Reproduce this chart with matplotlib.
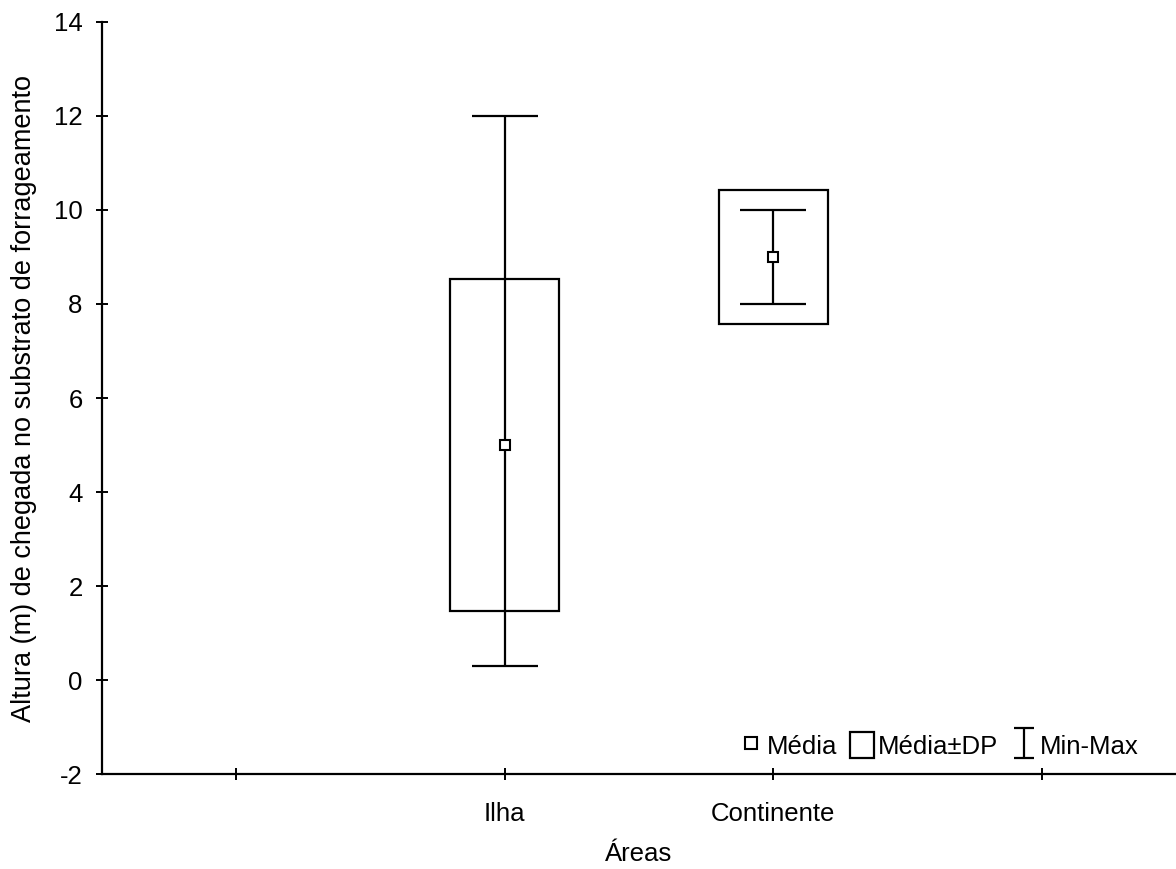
import matplotlib
matplotlib.use("Agg")
import matplotlib.pyplot as plt
import numpy as np
from matplotlib.patches import Rectangle
from matplotlib.lines import Line2D
from matplotlib.container import ErrorbarContainer
from matplotlib.legend_handler import HandlerErrorbar

plt.rcParams['font.family'] = ['Liberation Sans', 'DejaVu Sans']
plt.rcParams['axes.unicode_minus'] = False

# data
areas = ["Ilha", "Continente"]
media = [5.0, 9.0]
dp = [3.53, 1.42]
minimo = [0.3, 8.0]
maximo = [12.0, 10.0]

tick_pos = [0, 1, 2, 3]
tick_labels = ["", "Ilha", "Continente", ""]
x = np.array([1, 2])

fs = 18.5
fig = plt.figure(figsize=(11.76, 8.69), dpi=100)
ax = fig.add_axes([0.0867, 0.1093, 0.9133, 0.8654])

media = np.array(media)
dp = np.array(dp)

# caixa media +/- DP
ax.bar(x, 2 * dp, bottom=media - dp, width=0.405, fill=False,
       edgecolor="black", linewidth=1.6, zorder=2)

# min-max
yerr = [media - np.array(minimo), np.array(maximo) - media]
ax.errorbar(x, media, yerr=yerr, fmt="none", ecolor="black",
            elinewidth=1.6, capsize=23.8, capthick=1.6, zorder=3)

# media
ax.plot(x, media, "s", mfc="white", mec="black", ms=7.5, mew=1.5, zorder=4)

ax.set_xlim(-0.5, 3.5)
ax.set_ylim(-2, 14)
ax.set_yticks(np.arange(-2, 15, 2))
ax.set_xticks(tick_pos)
ax.set_xticklabels(tick_labels)

for s in ["top", "right"]:
    ax.spines[s].set_visible(False)
for s in ["left", "bottom"]:
    ax.spines[s].set_linewidth(1.6)

ax.tick_params(axis="both", direction="inout", length=8, width=1.4,
               labelsize=fs, colors="black")
ax.tick_params(axis="y", pad=10)
ax.tick_params(axis="x", pad=16)

ax.set_xlabel("Áreas", fontsize=fs, labelpad=12)
ax.set_ylabel("Altura (m) de chegada no substrato de forrageamento",
              fontsize=19.5, labelpad=12)

# legenda
h_media = Line2D([], [], ls="none", marker="s", mfc="white", mec="black",
                 ms=9, mew=1.5)
h_dp = Rectangle((0, 0), 1, 1, fill=False, edgecolor="black", linewidth=1.6)
h_mm = ax.errorbar([np.nan], [np.nan], yerr=[[np.nan], [np.nan]], fmt="none",
                   ecolor="black", elinewidth=1.6, capsize=7.5, capthick=1.6)

ax.legend([h_media, h_dp, h_mm], ["Média", "Média±DP", "Min-Max"],
          ncol=3, frameon=False, fontsize=fs, loc="center right",
          bbox_to_anchor=(0.965, 0.038), handlelength=0.95, handleheight=1.15,
          handletextpad=0.15, columnspacing=0.5, borderpad=0, borderaxespad=0,
          handler_map={ErrorbarContainer: HandlerErrorbar(yerr_size=0.58)})

fig.savefig("out.png", dpi=100)
